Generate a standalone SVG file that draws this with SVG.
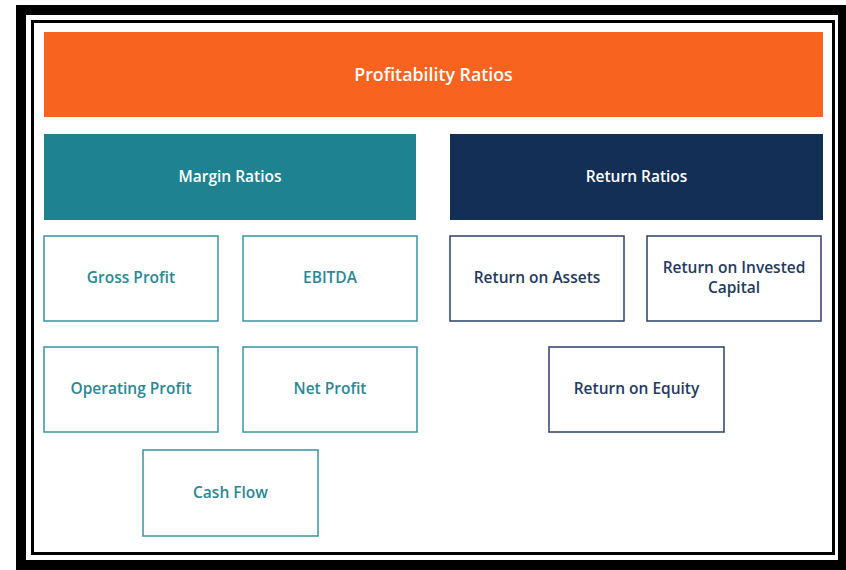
<svg xmlns="http://www.w3.org/2000/svg" width="846" height="570" viewBox="0 0 846 570">
<style>
text{font-family:"Open Sans","Liberation Sans",sans-serif;font-weight:600;font-size:15.5px;text-anchor:middle;dominant-baseline:central}
.hw{fill:#ffffff}
.big{font-size:17.8px}
.tb{fill:#ffffff;stroke:#3a94a2;stroke-width:1.5}
.nb{fill:#ffffff;stroke:#2a4168;stroke-width:1.5}
.tt{fill:#2a8896}
.nt{fill:#1f3a60}
</style>
<rect x="0" y="0" width="846" height="570" fill="#ffffff"/>
<rect x="21" y="10" width="822" height="555" fill="none" stroke="#000" stroke-width="10"/>
<rect x="32.5" y="21.5" width="801" height="532" fill="none" stroke="#000" stroke-width="3"/>
<g id="profitability">
<rect x="44" y="32" width="779" height="85" fill="#f8631f"/>
<text class="hw big" x="433.5" y="74">Profitability Ratios</text>
</g>
<g id="margin">
<rect x="44" y="134" width="372" height="86" fill="#1f8291"/>
<text class="hw" x="230" y="176">Margin Ratios</text>
</g>
<g id="return">
<rect x="450" y="134" width="373" height="86" fill="#142f55"/>
<text class="hw" x="636.5" y="176">Return Ratios</text>
</g>
<g id="gross">
<rect class="tb" x="44" y="236" width="174" height="85"/>
<text class="tt" x="131" y="277">Gross Profit</text>
</g>
<g id="ebitda">
<rect class="tb" x="243" y="236" width="174" height="85"/>
<text class="tt" x="330" y="277">EBITDA</text>
</g>
<g id="operating">
<rect class="tb" x="44" y="347" width="174" height="85"/>
<text class="tt" x="131" y="388">Operating Profit</text>
</g>
<g id="net">
<rect class="tb" x="243" y="347" width="174" height="85"/>
<text class="tt" x="330" y="388">Net Profit</text>
</g>
<g id="cashflow">
<rect class="tb" x="143" y="450" width="175" height="86"/>
<text class="tt" x="230.5" y="492">Cash Flow</text>
</g>
<g id="roa">
<rect class="nb" x="450" y="236" width="174" height="85"/>
<text class="nt" x="537" y="277">Return on Assets</text>
</g>
<g id="roic">
<rect class="nb" x="647" y="236" width="174" height="85"/>
<text class="nt" x="734" y="267">Return on Invested</text>
<text class="nt" x="734" y="287">Capital</text>
</g>
<g id="roe">
<rect class="nb" x="549" y="347" width="175" height="85"/>
<text class="nt" x="636.5" y="388">Return on Equity</text>
</g>
<g id="connectors"></g>
</svg>
